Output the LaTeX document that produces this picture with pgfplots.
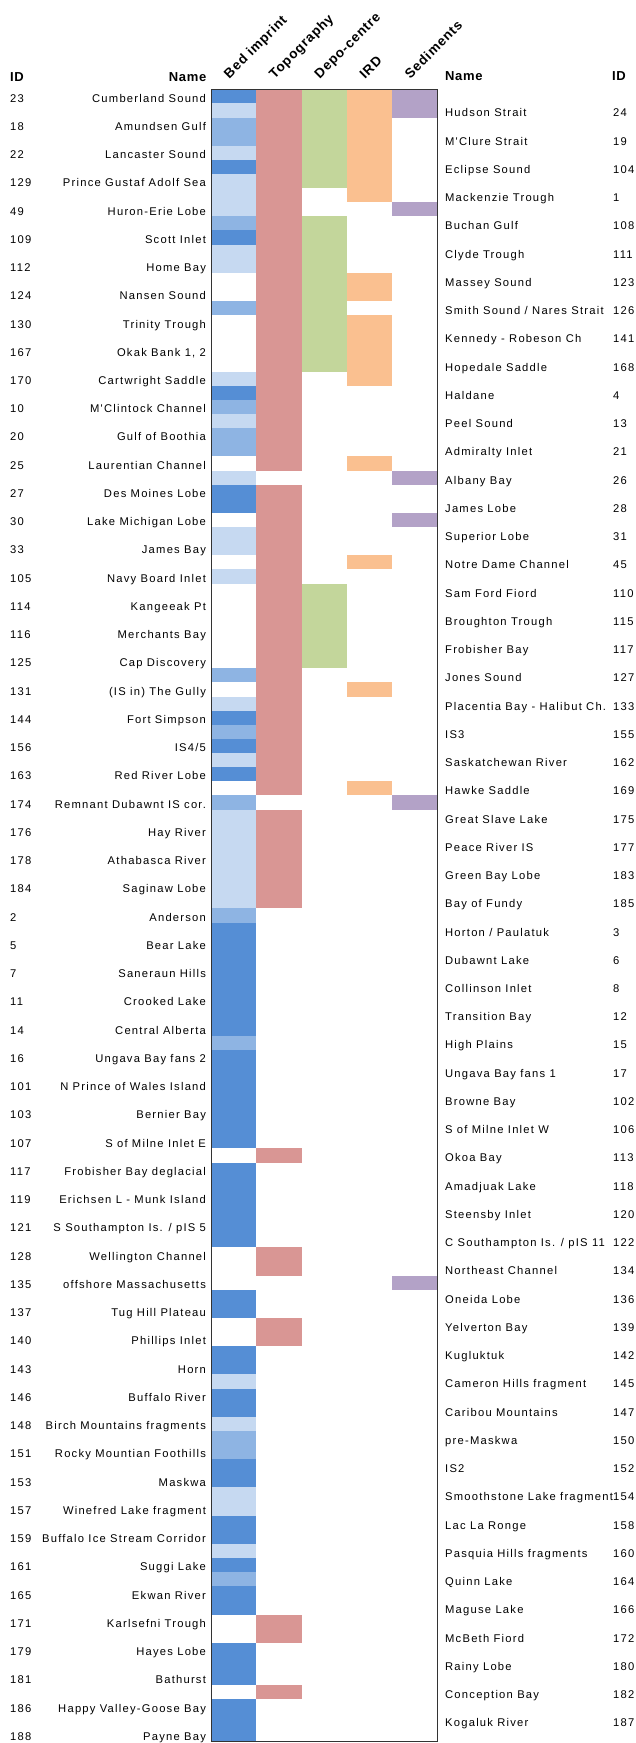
\documentclass[border=0pt]{standalone}
\usepackage{fontspec}
\setmainfont{Liberation Sans}
\newfontfamily\bodyfont[LetterSpace=11]{Liberation Sans}
\newfontfamily\hdrfont[LetterSpace=5]{Liberation Sans}
\newfontfamily\rotfont[LetterSpace=6]{Liberation Sans}
\usepackage{pgfplots}
\usepackage{pgfplotstable}
\pgfplotsset{compat=1.18}

\definecolor{bdk}{HTML}{558ED5}
\definecolor{bmd}{HTML}{8EB4E3}
\definecolor{blt}{HTML}{C6D9F1}
\definecolor{ctopo}{HTML}{D99694}
\definecolor{cdepo}{HTML}{C3D69B}
\definecolor{cird}{HTML}{FAC090}
\definecolor{csed}{HTML}{B3A2C7}

\newlength\cw \setlength\cw{45.32pt}
\newlength\ch \setlength\ch{14.26pt}
\pgfdeclareplotmark{cell}{%
  \pgfpathrectangle{\pgfpoint{-0.5\cw}{-0.5\ch}}{\pgfpoint{\cw}{\ch}}%
  \pgfusepathqfill}

% codes: bed 0 none,1 light,2 medium,3 dark; other columns 0/1
\pgfplotstableread[col sep=semicolon]{
row;id;name;bed;topo;depo;ird;sed
0;23;Cumberland Sound;3;1;1;1;1
1;24;Hudson Strait;1;1;1;1;1
2;18;Amundsen Gulf;2;1;1;1;0
3;19;M'Clure Strait;2;1;1;1;0
4;22;Lancaster Sound;1;1;1;1;0
5;104;Eclipse Sound;3;1;1;1;0
6;129;Prince Gustaf Adolf Sea;1;1;1;1;0
7;1;Mackenzie Trough;1;1;0;1;0
8;49;Huron-Erie Lobe;1;1;0;0;1
9;108;Buchan Gulf;2;1;1;0;0
10;109;Scott Inlet;3;1;1;0;0
11;111;Clyde Trough;1;1;1;0;0
12;112;Home Bay;1;1;1;0;0
13;123;Massey Sound;0;1;1;1;0
14;124;Nansen Sound;0;1;1;1;0
15;126;Smith Sound / Nares Strait;2;1;1;0;0
16;130;Trinity Trough;0;1;1;1;0
17;141;Kennedy - Robeson Ch;0;1;1;1;0
18;167;Okak Bank 1, 2;0;1;1;1;0
19;168;Hopedale Saddle;0;1;1;1;0
20;170;Cartwright Saddle;1;1;0;1;0
21;4;Haldane;3;1;0;0;0
22;10;M'Clintock Channel;2;1;0;0;0
23;13;Peel Sound;1;1;0;0;0
24;20;Gulf of Boothia;2;1;0;0;0
25;21;Admiralty Inlet;2;1;0;0;0
26;25;Laurentian Channel;0;1;0;1;0
27;26;Albany Bay;1;0;0;0;1
28;27;Des Moines Lobe;3;1;0;0;0
29;28;James Lobe;3;1;0;0;0
30;30;Lake Michigan Lobe;0;1;0;0;1
31;31;Superior Lobe;1;1;0;0;0
32;33;James Bay;1;1;0;0;0
33;45;Notre Dame Channel;0;1;0;1;0
34;105;Navy Board Inlet;1;1;0;0;0
35;110;Sam Ford Fiord;0;1;1;0;0
36;114;Kangeeak Pt;0;1;1;0;0
37;115;Broughton Trough;0;1;1;0;0
38;116;Merchants Bay;0;1;1;0;0
39;117;Frobisher Bay;0;1;1;0;0
40;125;Cap Discovery;0;1;1;0;0
41;127;Jones Sound;2;1;0;0;0
42;131;(IS in) The Gully;0;1;0;1;0
43;133;Placentia Bay - Halibut Ch.;1;1;0;0;0
44;144;Fort Simpson;3;1;0;0;0
45;155;IS3;2;1;0;0;0
46;156;IS4/5;3;1;0;0;0
47;162;Saskatchewan River;1;1;0;0;0
48;163;Red River Lobe;3;1;0;0;0
49;169;Hawke Saddle;0;1;0;1;0
50;174;Remnant Dubawnt IS cor.;2;0;0;0;1
51;175;Great Slave Lake;1;1;0;0;0
52;176;Hay River;1;1;0;0;0
53;177;Peace River IS;1;1;0;0;0
54;178;Athabasca River;1;1;0;0;0
55;183;Green Bay Lobe;1;1;0;0;0
56;184;Saginaw Lobe;1;1;0;0;0
57;185;Bay of Fundy;1;1;0;0;0
58;2;Anderson;2;0;0;0;0
59;3;Horton / Paulatuk;3;0;0;0;0
60;5;Bear Lake;3;0;0;0;0
61;6;Dubawnt Lake;3;0;0;0;0
62;7;Saneraun Hills;3;0;0;0;0
63;8;Collinson Inlet;3;0;0;0;0
64;11;Crooked Lake;3;0;0;0;0
65;12;Transition Bay;3;0;0;0;0
66;14;Central Alberta;3;0;0;0;0
67;15;High Plains;2;0;0;0;0
68;16;Ungava Bay fans 2;3;0;0;0;0
69;17;Ungava Bay fans 1;3;0;0;0;0
70;101;N Prince of Wales Island;3;0;0;0;0
71;102;Browne Bay;3;0;0;0;0
72;103;Bernier Bay;3;0;0;0;0
73;106;S of Milne Inlet W;3;0;0;0;0
74;107;S of Milne Inlet E;3;0;0;0;0
75;113;Okoa Bay;0;1;0;0;0
76;117;Frobisher Bay deglacial;3;0;0;0;0
77;118;Amadjuak Lake;3;0;0;0;0
78;119;Erichsen L  - Munk Island;3;0;0;0;0
79;120;Steensby Inlet;3;0;0;0;0
80;121;S Southampton Is. / pIS 5;3;0;0;0;0
81;122;C Southampton Is. / pIS 11;3;0;0;0;0
82;128;Wellington Channel;0;1;0;0;0
83;134;Northeast Channel;0;1;0;0;0
84;135;offshore Massachusetts;0;0;0;0;1
85;136;Oneida Lobe;3;0;0;0;0
86;137;Tug Hill Plateau;3;0;0;0;0
87;139;Yelverton Bay;0;1;0;0;0
88;140;Phillips Inlet;0;1;0;0;0
89;142;Kugluktuk;3;0;0;0;0
90;143;Horn;3;0;0;0;0
91;145;Cameron Hills fragment;1;0;0;0;0
92;146;Buffalo River;3;0;0;0;0
93;147;Caribou Mountains;3;0;0;0;0
94;148;Birch Mountains fragments;1;0;0;0;0
95;150;pre-Maskwa;2;0;0;0;0
96;151;Rocky Mountian Foothills;2;0;0;0;0
97;152;IS2;3;0;0;0;0
98;153;Maskwa;3;0;0;0;0
99;154;Smoothstone Lake fragment;1;0;0;0;0
100;157;Winefred Lake fragment;1;0;0;0;0
101;158;Lac La Ronge;3;0;0;0;0
102;159;Buffalo Ice Stream Corridor;3;0;0;0;0
103;160;Pasquia Hills fragments;1;0;0;0;0
104;161;Suggi Lake;3;0;0;0;0
105;164;Quinn Lake;2;0;0;0;0
106;165;Ekwan River;3;0;0;0;0
107;166;Maguse Lake;3;0;0;0;0
108;171;Karlsefni Trough;0;1;0;0;0
109;172;McBeth Fiord;0;1;0;0;0
110;179;Hayes Lobe;3;0;0;0;0
111;180;Rainy Lobe;3;0;0;0;0
112;181;Bathurst;3;0;0;0;0
113;182;Conception Bay;0;1;0;0;0
114;186;Happy Valley-Goose Bay;3;0;0;0;0
115;187;Kogaluk River;3;0;0;0;0
116;188;Payne Bay;3;0;0;0;0
}\celldata

\begin{document}
\begin{tikzpicture}
\useasboundingbox (0,0) rectangle (635pt,-1743pt);
\begin{axis}[
  name=grid,
  at={(211.2pt,-89.3pt)}, anchor=north west,
  scale only axis, width=226.1pt, height=1652.4pt,
  xmin=0, xmax=5, ymin=0, ymax=117, y dir=reverse,
  hide axis, clip=false,
  cells/.style={scatter, only marks, mark=cell, scatter src=explicit symbolic},
  bodylab/.style={draw=none, nodes near coords={\pgfplotspointmeta}, point meta=explicit symbolic,
    every node near coord/.append style={inner sep=0pt, text=black,
      font=\bodyfont\fontsize{11.2}{13}\selectfont, #1}},
  evenrows/.style={restrict expr to domain={mod(\thisrow{row},2)}{-0.5:0.5}},
  oddrows/.style={restrict expr to domain={mod(\thisrow{row},2)}{0.5:1.5}},
]
% cells
\addplot[cells, scatter/classes={0={fill=white},1={fill=blt},2={fill=bmd},3={fill=bdk}}]
  table[x expr=0.5, y expr=\thisrow{row}+0.5, meta=bed]{\celldata};
\addplot[cells, scatter/classes={0={fill=white},1={fill=ctopo}}]
  table[x expr=1.5, y expr=\thisrow{row}+0.5, meta=topo]{\celldata};
\addplot[cells, scatter/classes={0={fill=white},1={fill=cdepo}}]
  table[x expr=2.5, y expr=\thisrow{row}+0.5, meta=depo]{\celldata};
\addplot[cells, scatter/classes={0={fill=white},1={fill=cird}}]
  table[x expr=3.5, y expr=\thisrow{row}+0.5, meta=ird]{\celldata};
\addplot[cells, scatter/classes={0={fill=white},1={fill=csed}}]
  table[x expr=4.5, y expr=\thisrow{row}+0.5, meta=sed]{\celldata};
% left labels (even rows)
\addplot[bodylab={anchor=base east}, evenrows]
  table[x expr=-0.112, y expr=\thisrow{row}+0.9, meta=name]{\celldata};
\addplot[bodylab={anchor=base west}, evenrows]
  table[x expr=-4.449, y expr=\thisrow{row}+0.9, meta=id]{\celldata};
% right labels (odd rows)
\addplot[bodylab={anchor=base west}, oddrows]
  table[x expr=5.170, y expr=\thisrow{row}+0.95, meta=name]{\celldata};
\addplot[bodylab={anchor=base west}, oddrows]
  table[x expr=8.885, y expr=\thisrow{row}+0.95, meta=id]{\celldata};
% headers
\tikzset{hd/.style={inner sep=0pt, text=black, font=\hdrfont\bfseries\fontsize{13}{15}\selectfont},
         rh/.style={inner sep=0pt, text=black, rotate=45, anchor=base west, font=\rotfont\bfseries\fontsize{13.5}{15}\selectfont}}
\node[hd, anchor=base west] at (axis cs:-4.449,-0.54) {ID};
\node[hd, anchor=base east] at (axis cs:-0.104,-0.54) {Name};
\node[hd, anchor=base west] at (axis cs:5.170,-0.62) {Name};
\node[hd, anchor=base west] at (axis cs:8.863,-0.62) {ID};
\node[rh] at (axis cs:0.40,-0.70) {Bed imprint};
\node[rh] at (axis cs:1.40,-0.70) {Topography};
\node[rh] at (axis cs:2.40,-0.70) {Depo-centre};
\node[rh] at (axis cs:3.40,-0.70) {IRD};
\node[rh] at (axis cs:4.40,-0.70) {Sediments};
\end{axis}
\draw[black!80, line width=0.9pt] (grid.south west) rectangle (grid.north east);
\end{tikzpicture}
\end{document}
